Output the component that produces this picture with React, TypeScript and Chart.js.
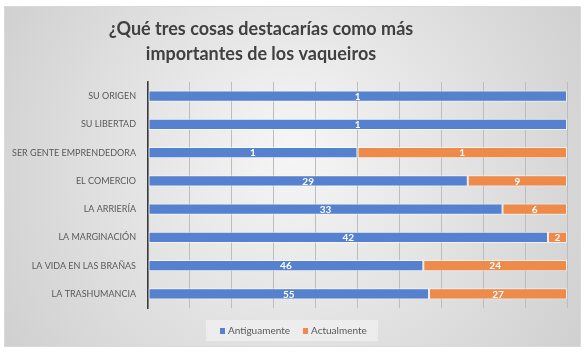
import React, { useEffect, useRef } from "react";
import { Chart, registerables } from "chart.js";

Chart.register(...registerables);

const categories = [
  "SU ORIGEN",
  "SU LIBERTAD",
  "SER GENTE EMPRENDEDORA",
  "EL COMERCIO",
  "LA ARRIERÍA",
  "LA MARGINACIÓN",
  "LA VIDA EN LAS BRAÑAS",
  "LA TRASHUMANCIA",
];
const antiguamente = [1, 1, 1, 29, 33, 42, 46, 55];
const actualmente = [0, 0, 1, 9, 6, 2, 24, 27];
const seriesNames = ["Antiguamente", "Actualmente"];
const titleLines = ["¿Qué tres cosas destacarías como más", "importantes de los vaqueiros"];

const BLUE = "#5581CE";
const ORANGE = "#EE8B4A";
const FONT = "Lato, 'Open Sans', sans-serif";

export default function App() {
  const ref = useRef<HTMLCanvasElement | null>(null);

  useEffect(() => {
    document.body.style.margin = "0";
    const canvas = ref.current!;
    const totals = antiguamente.map((v, i) => v + actualmente[i]);
    const pct = (arr: number[]) => arr.map((v, i) => (totals[i] ? (v / totals[i]) * 100 : 0));

    const bgPlugin = {
      id: "bg",
      beforeDraw(chart: any) {
        const ctx = chart.ctx;
        ctx.save();
        ctx.fillStyle = "#ffffff";
        ctx.fillRect(0, 0, chart.width, chart.height);
        const g = ctx.createRadialGradient(293, 150, 10, 293, 176, 360);
        g.addColorStop(0, "#f5f5f5");
        g.addColorStop(1, "#cdcdcd");
        ctx.fillStyle = g;
        ctx.fillRect(4, 6, 577, 341);
        ctx.strokeStyle = "#d9d9d9";
        ctx.lineWidth = 1;
        ctx.strokeRect(4.5, 6.5, 576, 340);
        // title
        ctx.fillStyle = "#404040";
        ctx.font = `bold 18px ${FONT}`;
        ctx.textAlign = "center";
        ctx.textBaseline = "middle";
        ctx.fillText(titleLines[0], 261, 29);
        ctx.fillText(titleLines[1], 261, 54);
        // legend
        ctx.fillStyle = "rgba(240,240,240,0.75)";
        ctx.fillRect(206, 320, 172, 21);
        ctx.font = `10px ${FONT}`;
        ctx.textAlign = "left";
        ctx.fillStyle = BLUE;
        ctx.fillRect(220, 328, 5, 6);
        ctx.fillStyle = ORANGE;
        ctx.fillRect(303, 328, 5, 6);
        ctx.fillStyle = "#595959";
        ctx.fillText(seriesNames[0], 228, 331);
        ctx.fillText(seriesNames[1], 311, 331);
        ctx.restore();
      },
    };

    const labelPlugin = {
      id: "vals",
      afterDatasetsDraw(chart: any) {
        const ctx = chart.ctx;
        ctx.save();
        ctx.font = `bold 10px ${FONT}`;
        ctx.fillStyle = "#ffffff";
        ctx.textAlign = "center";
        ctx.textBaseline = "middle";
        chart.data.datasets.forEach((ds: any, di: number) => {
          const raw = di === 0 ? antiguamente : actualmente;
          const meta = chart.getDatasetMeta(di);
          meta.data.forEach((el: any, i: number) => {
            if (!raw[i]) return;
            const p = el.getProps(["x", "y", "base"], true);
            ctx.fillText(String(raw[i]), (p.x + p.base) / 2, p.y + 0.5);
          });
        });
        ctx.restore();
      },
    };

    const chart = new Chart(canvas, {
      type: "bar",
      data: {
        labels: categories,
        datasets: [
          {
            label: seriesNames[0],
            data: pct(antiguamente),
            backgroundColor: BLUE,
            borderColor: "rgba(255,255,255,0.6)",
            borderWidth: 1,
            borderSkipped: false,
            barPercentage: 0.4,
            categoryPercentage: 1,
          },
          {
            label: seriesNames[1],
            data: pct(actualmente),
            backgroundColor: ORANGE,
            borderColor: "rgba(255,255,255,0.6)",
            borderWidth: 1,
            borderSkipped: false,
            barPercentage: 0.4,
            categoryPercentage: 1,
          },
        ],
      },
      options: {
        indexAxis: "y",
        responsive: false,
        animation: false,
        layout: { padding: { top: 82, bottom: 46, left: 0, right: 20 } },
        plugins: {
          legend: { display: false },
          title: { display: false },
          tooltip: { enabled: false },
        },
        scales: {
          x: {
            stacked: true,
            min: 0,
            max: 100,
            ticks: { display: false, stepSize: 10 },
            grid: { color: "#bdbdbd", drawTicks: false, lineWidth: 1 },
            border: { display: false },
          },
          y: {
            stacked: true,
            afterFit(scale: any) {
              scale.width = 148;
            },
            ticks: {
              color: "#595959",
              font: { family: FONT, size: 9 },
              padding: 4,
            },
            grid: { display: false },
            border: { display: true, color: "#3a3a3a", width: 1.5 },
          },
        },
      },
      plugins: [bgPlugin, labelPlugin],
    } as any);
    return () => chart.destroy();
  }, []);

  return <canvas ref={ref} width={587} height={354} style={{ display: "block" }} />;
}
